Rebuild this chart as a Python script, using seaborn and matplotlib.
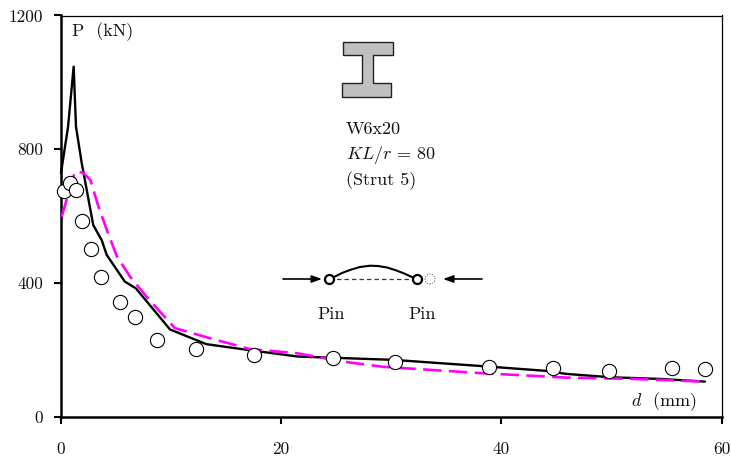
import matplotlib
matplotlib.use('Agg')
import matplotlib.pyplot as plt
from matplotlib.patches import Polygon, Ellipse
import seaborn as sns
import pandas as pd

# FE analysis (black line)
fe_d = [0.0, 0.64, 1.15, 1.36, 1.88, 2.93, 3.7, 4.15, 5.8, 6.8, 9.9, 13.2, 16.9, 21.5, 30.2, 38.8, 44.1, 45.9, 49.9, 54.4, 58.5]
fe_p = [729, 867, 1047, 868, 759, 573, 528, 484, 404, 384, 261, 217, 200, 180, 170, 150, 137, 128, 118, 113, 105]

# second analysis (magenta dashes)
an_d = [0.06, 1.27, 2.0, 2.67, 3.36, 4.27, 5.09, 6.27, 8.0, 10.35, 13.5, 17.2, 21.4, 25.6, 29.3, 38.3, 45.9, 52.0, 58.5]
an_p = [598, 733, 730, 708, 633, 549, 479, 419, 350, 265, 235, 202, 190, 165, 149, 130, 117, 113, 105]

# test points (circles)
test_d = [0.3, 0.8, 1.4, 1.9, 2.7, 3.6, 5.4, 6.7, 8.7, 12.3, 17.5, 24.7, 30.3, 38.9, 44.7, 49.8, 55.5, 58.5]
test_p = [675, 699, 678, 585, 501, 418, 343, 298, 229, 202, 185, 175, 163, 148, 145, 136, 145, 142]

x_ticks = [0, 20, 40, 60]
y_ticks = [0, 400, 800, 1200]

sns.set_theme(style='ticks')
plt.rcParams['font.family'] = ['cmr10', 'DejaVu Serif']
plt.rcParams['mathtext.fontset'] = 'cm'
plt.rcParams['axes.unicode_minus'] = False

W, H = 731, 461
fig = plt.figure(figsize=(W / 100, H / 100), dpi=100)
L, R, T, B = 61, 721.5, 15.5, 416.7
ax = fig.add_axes([L / W, 1 - B / H, (R - L) / W, (B - T) / H])

fe = pd.DataFrame({'d': fe_d, 'P': fe_p})
an = pd.DataFrame({'d': an_d, 'P': an_p})
test = pd.DataFrame({'d': test_d, 'P': test_p})

sns.lineplot(data=fe, x='d', y='P', color='black', lw=1.7, sort=False, estimator=None, ax=ax, zorder=3, clip_on=False)
sns.lineplot(data=an, x='d', y='P', color='#ff00ff', lw=1.9, sort=False, estimator=None, ax=ax, zorder=4,
             dashes=False, linestyle=(0, (7, 2.8)))
sns.scatterplot(data=test, x='d', y='P', s=105, color='white', edgecolor='black', linewidth=0.8, ax=ax, zorder=5, clip_on=False)

ax.set_xlim(0, 60)
ax.set_ylim(0, 1200)
ax.set_xticks(x_ticks)
ax.set_yticks(y_ticks)
ax.set_xlabel('')
ax.set_ylabel('')
ax.tick_params(axis='both', direction='out', length=5, width=1.5, labelsize=12.5, color='black', labelcolor='#111111')
ax.tick_params(axis='x', pad=13)
ax.tick_params(axis='y', pad=8)
for s in ['left', 'bottom']:
    ax.spines[s].set_linewidth(1.8)
    ax.spines[s].set_color('black')
for s in ['top', 'right']:
    ax.spines[s].set_visible(True)
    ax.spines[s].set_linewidth(0.9)
    ax.spines[s].set_color('black')


# pixel positions of the sketch, turned into data coords
def dx(px):
    return (px - L) / (R - L) * 60


def dy(py):
    return (B - py) / (B - T) * 1200


def label(px, py, s, **kw):
    ax.text(dx(px), dy(py), s, fontsize=13, color='#111111', va='center', **kw)


label(72, 32, 'P  (kN)')
label(631, 402, '$d$  (mm)')
label(346, 129.5, 'W6x20')
label(346, 155, '$KL/r$ = 80')
label(346, 181, '(Strut 5)')
label(317, 314, 'Pin')
label(408, 314, 'Pin')

# I section
sec = [(342.7, 41.7), (392.7, 41.7), (392.7, 55), (373.3, 55), (373.3, 82.7), (391.3, 82.7), (391.3, 97.3),
       (342, 97.3), (342, 82.7), (361.7, 82.7), (361.7, 55), (342.7, 55)]
ax.add_patch(Polygon([(dx(a), dy(b)) for a, b in sec], closed=True, fc='#bfbfbf', ec='#222222', lw=1.0, zorder=2))

# strut sketch
bow_x = [329, 335, 342, 350, 360, 370, 378, 387, 395, 403, 413, 417]
bow_y = [279, 276.5, 273, 270, 267, 265.7, 266, 267.5, 270, 273, 277.5, 279]
ax.plot([dx(a) for a in bow_x], [dy(b) for b in bow_y], color='black', lw=1.5, zorder=2)
ax.plot([dx(329), dx(417)], [dy(279), dy(279)], color='#333333', lw=0.9, ls=(0, (3.5, 2.5)), zorder=2)
ax.plot([dx(329), dx(417)], [dy(279), dy(279)], ls='none', marker='o', ms=6.5, mfc='white', mec='black', mew=1.6, zorder=3)
ax.add_patch(Ellipse((dx(430), dy(279)), dx(440) - dx(430), dy(269) - dy(279), fc='white', ec='#444444', lw=0.7, ls=':', zorder=3))
for a, b in [(283, 322), (482, 443)]:
    ax.annotate('', xy=(dx(b), dy(279)), xytext=(dx(a), dy(279)),
                arrowprops=dict(arrowstyle='-|>,head_length=0.5,head_width=0.18', color='black', lw=1.2, shrinkA=0, shrinkB=0))

fig.savefig('out.png', dpi=100)
